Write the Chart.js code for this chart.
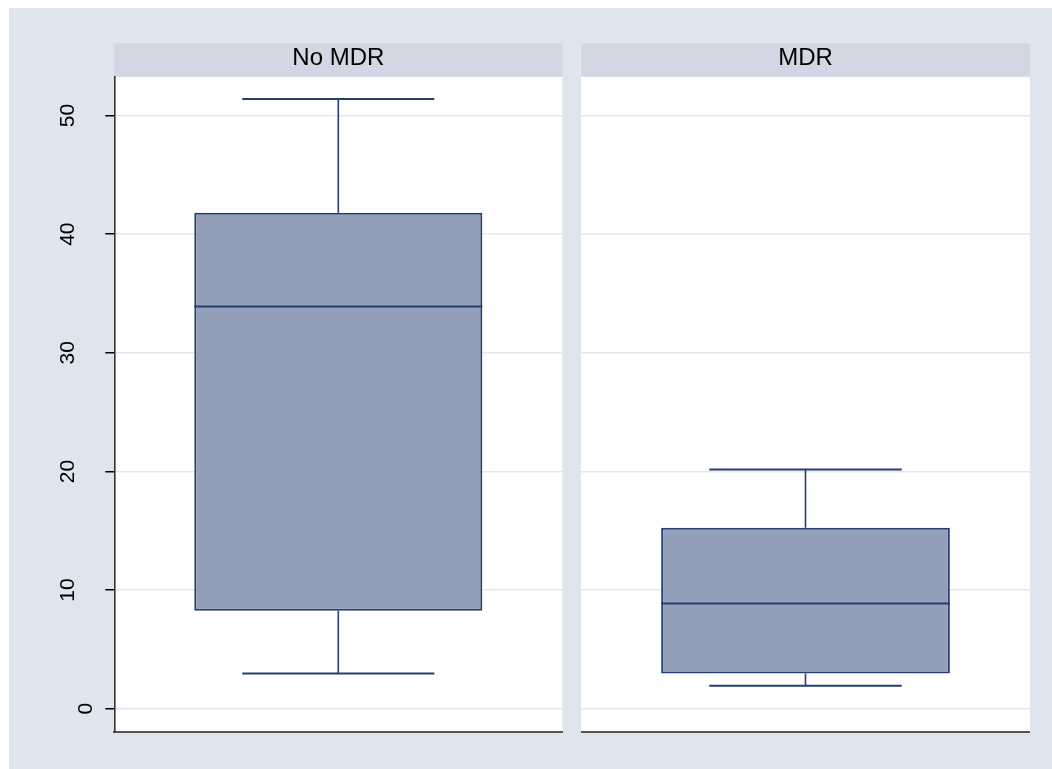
<!DOCTYPE html>
<html>
<head>
<meta charset="utf-8">
<script src="https://cdn.jsdelivr.net/npm/chart.js@4"></script>
<style>
  html, body { margin: 0; padding: 0; background: #ffffff; width: 1052px; height: 769px; overflow: hidden; }
  #bg { position: absolute; left: 9px; top: 8px; width: 1043px; height: 761px; background: #dfe5ef; }
  canvas { position: absolute; }
  #c1 { left: 9px; top: 8px; }
  #c2 { left: 581px; top: 8px; }
</style>
</head>
<body>
<div id="bg"></div>
<canvas id="c1" width="554" height="761"></canvas>
<canvas id="c2" width="449" height="761"></canvas>
<script>
// ---- data ----
const groups        = ['No MDR', 'MDR'];
const lowerWhisker  = [2.98, 1.94];
const lowerQuartile = [8.26, 2.97];
const medians       = [33.9, 8.87];
const upperQuartile = [41.8, 15.25];
const upperWhisker  = [51.4, 20.16];
const yTicks        = [0, 10, 20, 30, 40, 50];

// ---- style ----
const BOX_FILL = '#939fb7';
const BOX_LINE = '#253d75';
const GRID = '#e3e8f0';
const STRIP = '#d2d7e3';
const Y_MIN = -1.94, Y_MAX = 53.27;

Chart.defaults.font.family = "'Liberation Sans', Arial, sans-serif";
Chart.defaults.color = '#000';

const panelPlugin = {
  id: 'panel',
  beforeDraw(chart) {
    const {ctx, chartArea: a} = chart;
    ctx.save();
    ctx.fillStyle = '#ffffff';
    ctx.fillRect(a.left, a.top, a.right - a.left, a.bottom - a.top);
    const t = chart.titleBlock;
    ctx.fillStyle = STRIP;
    ctx.fillRect(a.left, t.top, a.right - a.left, a.top - t.top);
    ctx.restore();
  },
  afterDatasetsDraw(chart) {
    const {ctx} = chart;
    const y = chart.scales.y;
    const meta = chart.getDatasetMeta(0);
    const gi = chart.config.options.plugins.panel.group;
    meta.data.forEach((el) => {
      const cx = el.x;
      const half = el.width / 2;
      const capHalf = half * 2 / 3;
      const pLo = y.getPixelForValue(lowerWhisker[gi]);
      const pQ1 = y.getPixelForValue(lowerQuartile[gi]);
      const pMed = y.getPixelForValue(medians[gi]);
      const pQ3 = y.getPixelForValue(upperQuartile[gi]);
      const pHi = y.getPixelForValue(upperWhisker[gi]);
      ctx.save();
      ctx.strokeStyle = BOX_LINE;
      ctx.lineCap = 'butt';
      // whiskers
      ctx.lineWidth = 1.6;
      ctx.beginPath();
      ctx.moveTo(cx, pQ3); ctx.lineTo(cx, pHi);
      ctx.moveTo(cx, pQ1); ctx.lineTo(cx, pLo);
      ctx.stroke();
      // caps
      ctx.lineWidth = 2;
      ctx.beginPath();
      ctx.moveTo(cx - capHalf, pHi); ctx.lineTo(cx + capHalf, pHi);
      ctx.moveTo(cx - capHalf, pLo); ctx.lineTo(cx + capHalf, pLo);
      ctx.stroke();
      // median
      ctx.beginPath();
      ctx.moveTo(cx - half, pMed); ctx.lineTo(cx + half, pMed);
      ctx.stroke();
      ctx.restore();
    });
  }
};

function makePanel(canvasId, gi, showAxis) {
  const yAxis = {
    type: 'linear',
    min: Y_MIN,
    max: Y_MAX,
    afterBuildTicks: (s) => { s.ticks = yTicks.map(v => ({value: v})); },
    afterFit: (s) => { s.width = showAxis ? 105.3 : 0; s.paddingTop = 0; s.paddingBottom = 0; },
    border: { display: showAxis, color: '#333', width: 1.6 },
    grid: {
      color: GRID,
      lineWidth: 1.5,
      drawTicks: showAxis,
      tickLength: 9,
      tickColor: '#000',
      tickWidth: 1.5
    },
    ticks: {
      display: showAxis,
      autoSkip: false,
      minRotation: 90,
      maxRotation: 90,
      crossAlign: 'center',
      padding: 25,
      color: '#000',
      font: { size: 21, lineHeight: '36px' },
      callback: (v) => { const s = String(v); return s.length < 2 ? ['', s] : s; }
    }
  };
  return new Chart(document.getElementById(canvasId), {
    type: 'bar',
    data: {
      labels: [groups[gi]],
      datasets: [{
        data: [[lowerQuartile[gi], upperQuartile[gi]]],
        backgroundColor: BOX_FILL,
        borderColor: BOX_LINE,
        borderWidth: 2,
        borderSkipped: false,
        barPercentage: 0.643,
        categoryPercentage: 1
      }]
    },
    options: {
      responsive: false,
      animation: false,
      events: [],
      layout: { padding: { top: 35.3, bottom: 37.2, left: 0, right: showAxis ? 0.7 : 0 } },
      plugins: {
        legend: { display: false },
        tooltip: { enabled: false },
        title: {
          display: true,
          text: groups[gi],
          fullSize: false,
          color: '#000',
          font: { size: 24, weight: 'normal', lineHeight: 1.2 },
          padding: { top: 0.3, bottom: 4.3 }
        },
        panel: { group: gi }
      },
      scales: {
        x: {
          type: 'category',
          afterFit: (s) => { s.height = 0; },
          ticks: { display: false },
          grid: { color: 'rgba(0,0,0,0)', drawTicks: false },
          border: { display: true, color: '#555', width: 2 }
        },
        y: yAxis
      }
    },
    plugins: [panelPlugin]
  });
}

makePanel('c1', 0, true);
makePanel('c2', 1, false);
</script>
</body>
</html>
